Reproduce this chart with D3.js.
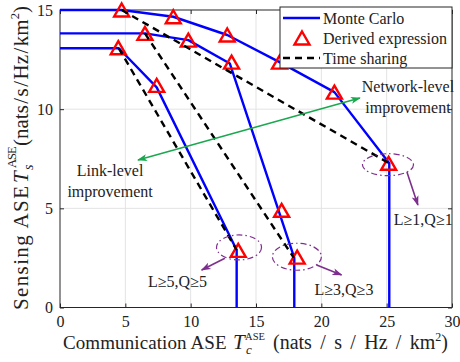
<!DOCTYPE html>
<html><head><meta charset="utf-8">
<script src="https://cdn.jsdelivr.net/npm/d3@7"></script>
<style>
html,body{margin:0;padding:0;background:#fff;}
svg{display:block;}
text{font-family:"Liberation Serif","Times New Roman",serif;fill:#222;}
</style></head>
<body><svg id="c" width="460" height="362"></svg>
<script>
// ---------- data ----------
const xTicks = [0,5,10,15,20,25,30];
const yTicks = [0,5,10,15];
// Monte Carlo curves
const mc1X = [0, 4.72, 8.67, 12.8, 16.8, 21.0, 25.2, 25.2];
const mc1Y = [15, 15, 14.66, 13.74, 12.37, 10.86, 7.27, 0];
const mc2X = [0, 6.5, 9.82, 13.0, 17.93, 17.93];
const mc2Y = [13.82, 13.82, 13.48, 12.3, 2.5, 0];
const mc3X = [0, 4.5, 7.4, 13.52, 13.52];
const mc3Y = [13.07, 13.07, 11.1, 2.9, 0];
// Derived expression points
const de1X = [4.72, 8.67, 12.8, 16.8, 21.0, 25.15];
const de1Y = [15, 14.66, 13.74, 12.37, 10.86, 7.27];
const de2X = [6.5, 9.82, 13.13, 16.96, 18.15];
const de2Y = [13.82, 13.48, 12.37, 4.9, 2.54];
const de3X = [4.46, 7.4, 13.64];
const de3Y = [13.1, 11.2, 2.88];
// Time sharing lines
const ts1X = [4.72, 25.2], ts1Y = [15, 7.27];
const ts2X = [6.5, 17.9],  ts2Y = [13.82, 2.5];
const ts3X = [4.5, 13.52], ts3Y = [13.07, 2.9];
// annotations
const legendLabels = ["Monte Carlo", "Derived expression", "Time sharing"];
const greenArrowX = [5.97, 22.95], greenArrowY = [7.44, 10.56];
const purpleArrowsX = [[26.55, 27.39], [19.64, 21.55], [12.62, 10.84]];
const purpleArrowsY = [[6.83, 5.17], [2.14, 1.64], [2.48, 1.89]];
const ellipseX = [25.1, 18.13, 13.7];
const ellipseY = [7.2, 2.56, 3.03];
const noteTexts = ["Network-level", "improvement", "Link-level", "improvement", "L\u22651,Q\u22651", "L\u22653,Q\u22653", "L\u22655,Q\u22655"];
const noteX = [26.63, 26.63, 3.83, 3.83, 27.8, 21.73, 8.99];
const noteY = [10.87, 9.81, 6.63, 5.57, 4.16, 0.63, 1.03];
const xLabelParts = ["Communication ASE", "T", "c", "ASE", "(nats/s/Hz/km", "2", ")"];
const yLabelParts = ["Sensing ASE", "T", "s", "ASE", "(nats/s/Hz/km", "2", ")"];

// ---------- layout ----------
const svg = d3.select("#c");
const L = 60, R = 452, T = 10, B = 307.5;
const x = d3.scaleLinear().domain([0,30]).range([L,R]);
const y = d3.scaleLinear().domain([0,15]).range([B,T]);
const BLUE = "#0000ff", RED = "#ff0000", GREEN = "#1aa84f", PURPLE = "#7e2f8e";

// grid
const g = svg.append("g");
g.selectAll(".gx").data(xTicks.slice(1,-1)).join("line")
  .attr("x1", d=>x(d)).attr("x2", d=>x(d)).attr("y1", T).attr("y2", B)
  .attr("stroke", "#e3e3e3").attr("stroke-width", 1);
g.selectAll(".gy").data(yTicks.slice(1,-1)).join("line")
  .attr("y1", d=>y(d)).attr("y2", d=>y(d)).attr("x1", L).attr("x2", R)
  .attr("stroke", "#e3e3e3").attr("stroke-width", 1);

// axes
function styleAxis(sel, labels){
  sel.select(".domain").remove();
  sel.selectAll("line").attr("stroke", "#262626").attr("stroke-width", 1);
  sel.selectAll("text").attr("font-size", 16).attr("fill", "#262626")
     .style("font-family", "'Liberation Serif','Times New Roman',serif");
  if(!labels) sel.selectAll("text").remove();
}
svg.append("g").attr("transform", `translate(0,${B})`)
  .call(d3.axisBottom(x).tickValues(xTicks).tickSizeInner(-4).tickSizeOuter(0).tickPadding(8).tickFormat(d3.format("d")))
  .call(s=>styleAxis(s,true));
svg.append("g").attr("transform", `translate(0,${T})`)
  .call(d3.axisTop(x).tickValues(xTicks).tickSizeInner(-4).tickSizeOuter(0))
  .call(s=>styleAxis(s,false));
svg.append("g").attr("transform", `translate(${L},0)`)
  .call(d3.axisLeft(y).tickValues(yTicks).tickSizeInner(-4).tickSizeOuter(0).tickPadding(7).tickFormat(d3.format("d")))
  .call(s=>styleAxis(s,true));
svg.append("g").attr("transform", `translate(${R},0)`)
  .call(d3.axisRight(y).tickValues(yTicks).tickSizeInner(-4).tickSizeOuter(0))
  .call(s=>styleAxis(s,false));
svg.append("rect").attr("x", L).attr("y", T).attr("width", R-L).attr("height", B-T)
  .attr("fill", "none").attr("stroke", "#262626").attr("stroke-width", 1);

// axis labels: each part placed along the reading direction and fitted to its span
function fit(sel, width){
  const n = sel.text().length;
  const w = sel.node().getComputedTextLength();
  if(n > 1) sel.attr("letter-spacing", Math.max(-1, Math.min(2, (width - w) / (n - 1))));
}
// spec rows: [start, end, baseline, fontSize, italic]
function axisLabel(parent, parts, spec){
  for(let i = 0; i < 4; i++){
    const s = spec[i];
    const t = parent.append("text").attr("x", s[0]).attr("y", s[2]).attr("font-size", s[3]).text(parts[i]);
    if(s[4]) t.attr("font-style", "italic");
    if(s[1] !== null) fit(t, s[1] - s[0]);
  }
  // units: extra space around the slashes, as in math typesetting
  const s = spec[4];
  const t = parent.append("text").attr("x", s[0]).attr("y", s[2]).attr("font-size", s[3]);
  const segs = [];
  parts[4].split("/").forEach((p,k,arr)=>{ segs.push(p); if(k < arr.length-1) segs.push("/"); });
  const spans = segs.map(p=>t.append("tspan").text(p));
  t.append("tspan").text(parts[5]).attr("font-size", s[3]*0.6).attr("dy", -s[3]*0.42);
  t.append("tspan").text(parts[6]).attr("dy", s[3]*0.42);
  const w = t.node().getComputedTextLength();
  const nSl = segs.filter(p=>p === "/").length;
  const gap = Math.max(0, (s[1] - s[0] - w) / (2*nSl));
  segs.forEach((p,k)=>{ if(p === "/"){ spans[k].attr("dx", gap); spans[k+1].attr("dx", gap); } });
}
const xlG = svg.append("g");
axisLabel(xlG, xLabelParts, [
  [63, 226.5, 349, 19, false],
  [233, null, 349, 21, true],
  [246, null, 354, 13, true],
  [245, 265, 340, 10.5, false],
  [273, 448, 349, 20, false]
]);
const ylG = svg.append("g").attr("transform", "translate(28,0) rotate(-90)");
axisLabel(ylG, yLabelParts, [
  [-310, -186, 0, 21, false],
  [-183, null, 0, 21, true],
  [-170, null, 5, 14, true],
  [-168, -148, -12, 12.5, false],
  [-146, -6, 0, 21, false]
]);

// marks
const line = d3.line().x(d=>x(d[0])).y(d=>y(d[1]));
const zip = (a,b)=>a.map((v,i)=>[v,b[i]]);
const plot = svg.append("g");
[[mc1X,mc1Y],[mc2X,mc2Y],[mc3X,mc3Y]].forEach(([xs,ys])=>{
  plot.append("path").attr("d", line(zip(xs,ys))).attr("fill","none")
    .attr("stroke", BLUE).attr("stroke-width", 2.4).attr("stroke-linejoin","round");
});
const tri = (cx,cy,w=15,h=13)=>`M${cx},${cy-h/2}L${cx+w/2},${cy+h/2}L${cx-w/2},${cy+h/2}Z`;
[[de1X,de1Y],[de2X,de2Y],[de3X,de3Y]].forEach(([xs,ys])=>{
  plot.selectAll(null).data(zip(xs,ys)).join("path")
    .attr("d", d=>tri(x(d[0]), y(d[1]))).attr("fill","none")
    .attr("stroke", RED).attr("stroke-width", 2.4).attr("stroke-linejoin","miter");
});
[[ts1X,ts1Y],[ts2X,ts2Y],[ts3X,ts3Y]].forEach(([xs,ys])=>{
  plot.append("path").attr("d", line(zip(xs,ys))).attr("fill","none")
    .attr("stroke", "#000").attr("stroke-width", 2.4).attr("stroke-dasharray","7,5");
});

// arrow markers
const defs = svg.append("defs");
function marker(id, color){
  defs.append("marker").attr("id", id).attr("viewBox","0 0 10 10").attr("refX", 9).attr("refY", 5)
    .attr("markerWidth", 10).attr("markerHeight", 10).attr("markerUnits","userSpaceOnUse")
    .attr("orient","auto-start-reverse")
    .append("path").attr("d","M0,1.5L10,5L0,8.5L2.5,5Z").attr("fill", color);
}
marker("mg", GREEN); marker("mp", PURPLE);

svg.append("line").attr("x1", x(greenArrowX[0])).attr("y1", y(greenArrowY[0]))
  .attr("x2", x(greenArrowX[1])).attr("y2", y(greenArrowY[1]))
  .attr("stroke", GREEN).attr("stroke-width", 1.5)
  .attr("marker-start","url(#mg)").attr("marker-end","url(#mg)");

// ellipses
const ellR = [[25.5,11],[24.5,13.5],[22.5,12.5]];
ellipseX.forEach((ex,i)=>{
  svg.append("ellipse").attr("cx", x(ex)).attr("cy", y(ellipseY[i]))
    .attr("rx", ellR[i][0]).attr("ry", ellR[i][1]).attr("fill","none")
    .attr("stroke", PURPLE).attr("stroke-width", 1.2).attr("stroke-dasharray","6,3,1.5,3");
});
purpleArrowsX.forEach((ax,i)=>{
  const ay = purpleArrowsY[i];
  svg.append("line").attr("x1", x(ax[0])).attr("y1", y(ay[0])).attr("x2", x(ax[1])).attr("y2", y(ay[1]))
    .attr("stroke", PURPLE).attr("stroke-width", 1.6).attr("marker-end","url(#mp)");
});

// notes
noteTexts.forEach((t,i)=>{
  svg.append("text").attr("x", x(noteX[i])).attr("y", y(noteY[i])).attr("text-anchor","middle")
    .attr("font-size", 16).text(t);
});

// legend
const lg = svg.append("g");
lg.append("rect").attr("x", 280).attr("y", 7).attr("width", 172).attr("height", 61)
  .attr("fill", "#fff").attr("stroke", "#262626").attr("stroke-width", 1);
const rowY = [18, 38, 58];
lg.append("line").attr("x1", 283).attr("x2", 320).attr("y1", rowY[0]).attr("y2", rowY[0])
  .attr("stroke", BLUE).attr("stroke-width", 2.4);
lg.append("path").attr("d", tri(302, rowY[1])).attr("fill","none").attr("stroke", RED).attr("stroke-width", 2.4);
lg.append("line").attr("x1", 283).attr("x2", 320).attr("y1", rowY[2]).attr("y2", rowY[2])
  .attr("stroke", "#000").attr("stroke-width", 2.4).attr("stroke-dasharray","7,5");
legendLabels.forEach((t,i)=>{
  lg.append("text").attr("x", 323).attr("y", rowY[i]+5.5).attr("font-size", 16).text(t);
});
</script></body></html>
